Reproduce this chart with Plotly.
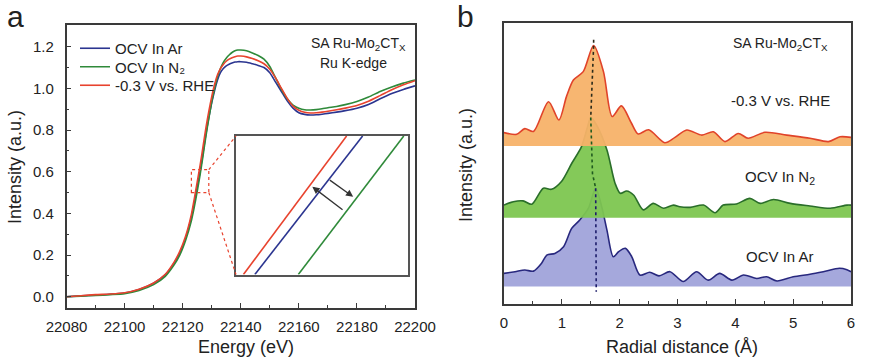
import plotly.graph_objects as go
import numpy as np

# ---------------- Panel a data (XANES, Ru K-edge) ----------------
energy_ev = [22080, 22085, 22090, 22095, 22100, 22105, 22110, 22114, 22117, 22119,
             22121, 22123, 22124, 22125, 22126, 22127, 22128, 22129, 22130, 22131,
             22132, 22133, 22134, 22135, 22136, 22137, 22138, 22139, 22140, 22142,
             22144, 22146, 22148, 22150, 22152, 22154, 22156, 22158, 22160, 22162,
             22164, 22166, 22168, 22170, 22173, 22176, 22180, 22184, 22188, 22192,
             22196, 22200]
xanes_ocv_ar = [0.000, 0.004, 0.008, 0.012, 0.018, 0.035, 0.065, 0.105, 0.160, 0.210,
                0.280, 0.380, 0.450, 0.525, 0.600, 0.690, 0.780, 0.860, 0.930, 0.990,
                1.040, 1.075, 1.095, 1.108, 1.116, 1.122, 1.126, 1.128, 1.128, 1.125,
                1.118, 1.110, 1.100, 1.075, 1.030, 0.985, 0.940, 0.905, 0.883, 0.875,
                0.872, 0.873, 0.876, 0.880, 0.886, 0.893, 0.905, 0.923, 0.950, 0.975,
                0.995, 1.012]
xanes_ocv_n2 = [0.000, 0.003, 0.006, 0.010, 0.015, 0.030, 0.058, 0.098, 0.152, 0.200,
                0.270, 0.365, 0.430, 0.505, 0.585, 0.675, 0.770, 0.855, 0.935, 1.000,
                1.055, 1.095, 1.125, 1.145, 1.160, 1.172, 1.180, 1.184, 1.184, 1.180,
                1.170, 1.158, 1.140, 1.105, 1.050, 0.995, 0.950, 0.920, 0.905, 0.897,
                0.896, 0.898, 0.902, 0.907, 0.913, 0.922, 0.937, 0.958, 0.985, 1.007,
                1.025, 1.040]
xanes_rhe = [0.000, 0.005, 0.010, 0.013, 0.019, 0.036, 0.066, 0.108, 0.165, 0.218,
             0.290, 0.395, 0.470, 0.550, 0.630, 0.720, 0.810, 0.890, 0.960, 1.020,
             1.065, 1.095, 1.115, 1.130, 1.140, 1.147, 1.152, 1.155, 1.155, 1.151,
             1.143, 1.132, 1.118, 1.092, 1.050, 1.000, 0.952, 0.915, 0.895, 0.885,
             0.882, 0.883, 0.886, 0.890, 0.897, 0.905, 0.918, 0.938, 0.965, 0.993,
             1.017, 1.037]
energy_ticks = [22080, 22100, 22120, 22140, 22160, 22180, 22200]
intensity_ticks = [0.0, 0.2, 0.4, 0.6, 0.8, 1.0, 1.2]
series_names = ["OCV In Ar", "OCV In N\u2082", "-0.3 V vs. RHE"]

# zoomed window (inset) and the three edge segments seen in it
zoom_energy = [22123, 22129]
zoom_intensity = [0.50, 0.61]
inset_intensity = [0.50, 0.61]
inset_energy_rhe = [22123.26, 22126.87]
inset_energy_ar = [22123.66, 22127.43]
inset_energy_n2 = [22125.18, 22128.87]

# ---------------- Panel b data (FT-EXAFS) ----------------
r_ar = [0.00, 0.19, 0.36, 0.51, 0.65, 0.74, 0.88, 1.03, 1.17, 1.31, 1.46, 1.585, 1.69, 1.78,
        1.89, 1.98, 2.10, 2.21, 2.35, 2.52, 2.68, 2.87, 3.10, 3.33, 3.53, 3.73, 3.94, 4.14,
        4.37, 4.54, 4.72, 5.00, 5.29, 5.52, 5.80, 5.93, 6.00]
ft_ar = [0.47, 0.53, 0.59, 0.55, 0.83, 1.12, 1.18, 1.42, 2.07, 2.37, 2.79, 3.50, 2.84, 2.01,
         1.06, 1.24, 1.36, 1.06, 0.41, 0.51, 0.38, 0.53, 0.18, 0.53, 0.23, 0.47, 0.23, 0.41,
         0.29, 0.35, 0.20, 0.35, 0.44, 0.53, 0.65, 0.60, 0.53]
r_n2 = [0.00, 0.16, 0.33, 0.48, 0.68, 0.82, 0.99, 1.17, 1.34, 1.44, 1.50, 1.60, 1.78, 1.92,
        2.01, 2.12, 2.24, 2.41, 2.58, 2.76, 2.93, 3.04, 3.22, 3.45, 3.65, 3.79, 4.02, 4.25,
        4.43, 4.66, 4.95, 5.29, 5.64, 5.93, 6.00]
ft_n2 = [0.45, 0.57, 0.60, 0.48, 1.05, 1.01, 1.28, 1.93, 2.53, 3.20, 3.57, 3.30, 2.41, 1.23,
         0.87, 0.95, 0.81, 0.28, 0.51, 0.34, 0.45, 0.39, 0.37, 0.45, 0.18, 0.45, 0.49, 0.69,
         0.51, 0.65, 0.51, 0.42, 0.34, 0.45, 0.45]
r_rhe = [0.00, 0.22, 0.36, 0.51, 0.77, 0.95, 1.08, 1.20, 1.37, 1.55, 1.72, 1.87, 2.03, 2.20,
         2.32, 2.50, 2.78, 2.95, 3.16, 3.42, 3.62, 3.82, 4.05, 4.22, 4.51, 4.89, 5.29, 5.61,
         5.81, 6.00]
ft_rhe = [0.48, 0.42, 0.62, 0.52, 1.58, 0.93, 1.76, 2.35, 2.65, 3.58, 2.65, 1.05, 1.43, 0.83,
          0.43, 0.58, 0.12, 0.30, 0.57, 0.39, 0.51, 0.16, 0.45, 0.28, 0.49, 0.39, 0.28, 0.16,
          0.33, 0.31]
offset_ar = 0.62
offset_n2 = 3.07
offset_rhe = 5.62
radial_ticks = [0, 1, 2, 3, 4, 5, 6]

# ---------------- styling ----------------
FONT = "Liberation Sans, Arial, Helvetica, sans-serif"
TXT = "#222222"
AX = "#3a3a3a"
C_AR = "#2b3590"
C_N2 = "#2f8a3a"
C_RHE = "#e8432e"
FILL_RHE = "rgba(247,178,105,0.95)"
FILL_N2 = "rgba(125,198,80,0.95)"
FILL_AR = "rgba(160,163,218,0.95)"
LINE_RHE_B = "#e0432a"
LINE_N2_B = "#2a6e2a"
LINE_AR_B = "#28287e"

W, H = 877, 361
def fx(px):
    return px / W
def fy(py):
    return (H - py) / H

xa_dom = [fx(66.5), fx(415)]
ya_dom = [fy(308), fy(25)]
xb_dom = [fx(504), fx(851)]
yb_dom = [fy(304), fy(23)]
xi_dom = [fx(236), fx(407.5)]
yi_dom = [fy(274.5), fy(136)]

xa_rng = [22080, 22200]
ya_rng = [-0.054, 1.304]
xb_rng = [0, 6]
yb_rng = [0, 10]

fig = go.Figure()

# panel a curves, each in its own legend box so rows can be spaced like the original
legend_ids = ["legend", "legend2", "legend3"]
for name, ys, col, lg in [(series_names[0], xanes_ocv_ar, C_AR, legend_ids[0]),
                          (series_names[1], xanes_ocv_n2, C_N2, legend_ids[1]),
                          (series_names[2], xanes_rhe, C_RHE, legend_ids[2])]:
    fig.add_trace(go.Scatter(x=energy_ev, y=ys, mode="lines", name=name, legend=lg,
                             line=dict(color=col, width=1.6, shape="spline", smoothing=0.6),
                             xaxis="x", yaxis="y"))

# inset lines
for xs, col in [(inset_energy_rhe, C_RHE), (inset_energy_ar, C_AR), (inset_energy_n2, C_N2)]:
    fig.add_trace(go.Scatter(x=xs, y=inset_intensity, mode="lines", showlegend=False,
                             line=dict(color=col, width=1.6), xaxis="x3", yaxis="y3"))

# panel b filled curves
for r, v, off, fillc, linec in [(r_ar, ft_ar, offset_ar, FILL_AR, LINE_AR_B),
                                (r_n2, ft_n2, offset_n2, FILL_N2, LINE_N2_B),
                                (r_rhe, ft_rhe, offset_rhe, FILL_RHE, LINE_RHE_B)]:
    fig.add_trace(go.Scatter(x=[r[0], r[-1]], y=[off, off], mode="lines", showlegend=False,
                             line=dict(width=0, color="rgba(0,0,0,0)"), hoverinfo="skip",
                             xaxis="x2", yaxis="y2"))
    fig.add_trace(go.Scatter(x=r, y=[off + q for q in v], mode="lines", showlegend=False,
                             fill="tonexty", fillcolor=fillc,
                             line=dict(color=linec, width=1.6, shape="spline", smoothing=0.8),
                             xaxis="x2", yaxis="y2"))

# dotted peak guide lines
def peak(r, v, off):
    i = int(np.argmax(v))
    return r[i], v[i] + off

pr = peak(r_rhe, ft_rhe, offset_rhe)
pn = peak(r_n2, ft_n2, offset_n2)
pa = peak(r_ar, ft_ar, offset_ar)
for xs, ys, col in [([pr[0], pr[0], pn[0]], [pr[1] + 0.2, pr[1], pn[1]], "#2a2a1a"),
                    ([pn[0], pn[0] + 0.03, pa[0]], [pn[1], pn[1] - 2.0, pa[1]], "#1f5a1f"),
                    ([pa[0], pa[0] + 0.01], [pa[1], offset_ar - 0.18], "#1c1c6a")]:
    fig.add_trace(go.Scatter(x=xs, y=ys, mode="lines", showlegend=False,
                             line=dict(color=col, width=1.6, dash="dot"),
                             xaxis="x2", yaxis="y2"))

axis_common = dict(showline=True, linecolor=AX, linewidth=1.5, mirror=True,
                   showgrid=False, zeroline=False, automargin=False,
                   tickfont=dict(family=FONT, size=15, color=TXT))

def legend_box(top_px):
    return dict(x=fx(75), y=fy(top_px), xanchor="left", yanchor="top",
                bgcolor="rgba(0,0,0,0)", borderwidth=0,
                font=dict(family=FONT, size=15, color=TXT),
                itemwidth=30, tracegroupgap=0)

fig.update_layout(
    template="none",
    width=W, height=H,
    margin=dict(l=0, r=0, t=0, b=0, pad=0, autoexpand=False),
    paper_bgcolor="white", plot_bgcolor="white",
    font=dict(family=FONT, color=TXT),
    xaxis=dict(domain=xa_dom, range=xa_rng, anchor="y", tickmode="array",
               tickvals=energy_ticks, ticktext=[str(t) for t in energy_ticks],
               ticks="inside", ticklen=5, tickcolor=AX, ticklabelstandoff=4,
               minor=dict(dtick=10, tick0=22080, ticks="inside", ticklen=3, tickcolor=AX,
                          showgrid=False),
               **axis_common),
    yaxis=dict(domain=ya_dom, range=ya_rng, anchor="x", tickmode="array",
               tickvals=intensity_ticks, ticktext=[f"{t:.1f}" for t in intensity_ticks],
               ticks="inside", ticklen=5, tickcolor=AX, ticklabelstandoff=8,
               minor=dict(dtick=0.1, tick0=0, ticks="inside", ticklen=3, tickcolor=AX,
                          showgrid=False),
               **axis_common),
    xaxis2=dict(domain=xb_dom, range=xb_rng, anchor="y2", tickmode="array",
                tickvals=radial_ticks, ticktext=[str(t) for t in radial_ticks],
                ticks="inside", ticklen=5, tickcolor=AX, ticklabelstandoff=4,
                minor=dict(dtick=0.5, tick0=0, ticks="inside", ticklen=3, tickcolor=AX,
                           showgrid=False),
                **axis_common),
    yaxis2=dict(domain=yb_dom, range=yb_rng, anchor="x2", showticklabels=False,
                ticks="", **axis_common),
    xaxis3=dict(domain=xi_dom, range=zoom_energy, anchor="y3", showticklabels=False,
                ticks="", showline=True, linecolor="#555555", linewidth=1.5, mirror=True,
                showgrid=False, zeroline=False, automargin=False),
    yaxis3=dict(domain=yi_dom, range=zoom_intensity, anchor="x3", showticklabels=False,
                ticks="", showline=True, linecolor="#555555", linewidth=1.5, mirror=True,
                showgrid=False, zeroline=False, automargin=False),
    showlegend=True,
    legend=legend_box(32),
    legend2=legend_box(50.5),
    legend3=legend_box(69),
)

# dotted zoom rectangle and connectors
fig.add_shape(type="rect", xref="x", yref="y", x0=zoom_energy[0], x1=zoom_energy[1],
              y0=zoom_intensity[0], y1=zoom_intensity[1],
              line=dict(color=C_RHE, width=1.2, dash="dot"))

def to_paper(v, rng, dom):
    return dom[0] + (v - rng[0]) / (rng[1] - rng[0]) * (dom[1] - dom[0])

rx = to_paper(zoom_energy[1], xa_rng, xa_dom)
ry_top = to_paper(zoom_intensity[1], ya_rng, ya_dom)
ry_bot = to_paper(zoom_intensity[0], ya_rng, ya_dom)
for y0, y1 in [(ry_top, yi_dom[1]), (ry_bot, yi_dom[0])]:
    fig.add_shape(type="line", xref="paper", yref="paper", x0=rx, y0=y0, x1=xi_dom[0], y1=y1,
                  line=dict(color=C_RHE, width=1.2, dash="dot"))

# inset arrows (head x, head y, tail x, tail y) in inset data coordinates
inset_arrows = [(22125.67, 0.5697, 22126.78, 0.5506),
                (22127.10, 0.5617, 22126.23, 0.5758)]
for hx, hy, tx, ty in inset_arrows:
    fig.add_annotation(xref="x3", yref="y3", axref="x3", ayref="y3",
                       x=hx, y=hy, ax=tx, ay=ty, text="", showarrow=True,
                       arrowhead=2, arrowsize=1.1, arrowwidth=1.3, arrowcolor="#333333")

def txt(s, x, y, size=15, xanchor="center", angle=0):
    fig.add_annotation(text=s, xref="paper", yref="paper", x=fx(x), y=fy(y),
                       xanchor=xanchor, yanchor="middle", showarrow=False, textangle=angle,
                       font=dict(family=FONT, size=size, color=TXT))

# panel labels
txt("a", 15, 17, size=30)
txt("b", 465, 17, size=30)
# axis titles
txt("Energy (eV)", 246, 347, size=18)
txt("Radial distance (Å)", 682, 347, size=18)
txt("Intensity (a.u.)", 15, 167, size=18, angle=-90)
txt("Intensity (a.u.)", 466, 165, size=18, angle=-90)
# panel a labels
txt("SA Ru-Mo<sub>2</sub>CT<sub>X</sub>", 358, 44, size=14)
txt("Ru K-edge", 353, 63, size=14)
# panel b labels
txt("SA Ru-Mo<sub>2</sub>CT<sub>X</sub>", 780, 44, size=14)
txt("-0.3 V vs. RHE", 780, 100, size=15)
txt("OCV In N<sub>2</sub>", 780, 178, size=15)
txt("OCV In Ar", 780, 256, size=15)

fig.write_html("out.html", config={"displayModeBar": False},
               post_script="document.body.style.margin='0';document.body.style.overflow='hidden';")
